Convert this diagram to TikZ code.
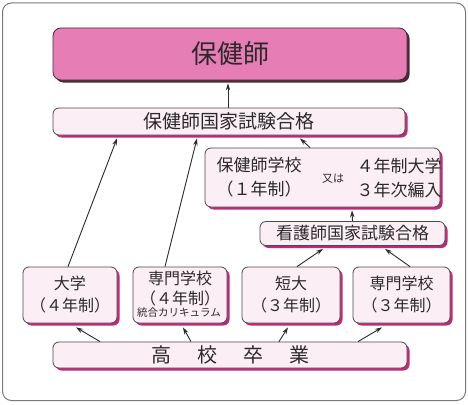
\documentclass[tikz,border=0pt]{standalone}
\usepackage{fontspec}
\setmainfont{Noto Sans CJK JP}
\usetikzlibrary{arrows.meta,shadows}
\definecolor{txt}{HTML}{2A2A2A}
\definecolor{topfill}{HTML}{E77DB5}
\definecolor{topshadow}{HTML}{4A2A38}
\definecolor{boxfill}{HTML}{FCEEF5}
\definecolor{boxline}{HTML}{4A4A4A}
\definecolor{magshadow}{HTML}{C0297A}
\definecolor{frame}{HTML}{7A7A7A}
\tikzset{
  lightbox/.style={rectangle, rounded corners=6pt, draw=boxline, line width=0.8pt, fill=boxfill,
    inner sep=0pt, text=txt, align=center,
    drop shadow={shadow xshift=2.5pt, shadow yshift=-2.5pt, fill=magshadow, opacity=1}},
  topbox/.style={rectangle, rounded corners=8pt, draw=topshadow, line width=0.8pt, fill=topfill,
    inner sep=0pt, text=txt, align=center,
    drop shadow={shadow xshift=2.5pt, shadow yshift=-2.5pt, fill=topshadow, opacity=1}},
  lbl/.style={inner sep=0pt, text=txt, align=center},
  arr/.style={draw=txt, line width=0.9pt, -{Stealth[length=7pt,width=4.5pt]}}
}
\begin{document}
\begin{tikzpicture}[x=1pt,y=-1pt]
\useasboundingbox (0,0) rectangle (468,404);
\draw[frame, line width=1pt, rounded corners=9pt, fill=white] (2.5,3) rectangle (465.5,400.5);

\node[topbox, minimum width=354pt, minimum height=52pt, font=\fontsize{26pt}{28pt}\selectfont] (top) at (230,54) {保健師};
\node[lightbox, minimum width=352pt, minimum height=27pt, font=\fontsize{19pt}{21pt}\selectfont] (pass) at (229,121.5) {保健師国家試験合格};
\node[lightbox, minimum width=235pt, minimum height=59pt] (school) at (322.5,177.5) {};
\node[lbl, font=\fontsize{17pt}{24pt}\selectfont] (schoolA) at (259,177.5) {保健師学校\\（１年制）};
\node[lbl, font=\fontsize{11pt}{12pt}\selectfont] (schoolOr) at (333,179) {又は};
\node[lbl, font=\fontsize{17pt}{24pt}\selectfont] (schoolB) at (399,177.5) {４年制大学\\３年次編入};
\node[lightbox, minimum width=185pt, minimum height=24pt, font=\fontsize{17pt}{19pt}\selectfont] (kango) at (352.5,233.5) {看護師国家試験合格};

\node[lightbox, minimum width=94pt, minimum height=56pt, font=\fontsize{16pt}{22pt}\selectfont] (daigaku) at (70,295) {大学\\（４年制）};
\node[lightbox, minimum width=94pt, minimum height=56pt] (senmon4) at (180,295) {};
\node[lbl, font=\fontsize{16pt}{20pt}\selectfont] (senmon4t) at (180,289) {専門学校\\（４年制）};
\node[lbl, font=\fontsize{10.5pt}{12pt}\selectfont] (senmon4s) at (179,313) {統合カリキュラム};
\node[lightbox, minimum width=98pt, minimum height=56pt, font=\fontsize{16pt}{22pt}\selectfont] (tandai) at (291,295) {短大\\（３年制）};
\node[lightbox, minimum width=97pt, minimum height=56pt, font=\fontsize{16pt}{22pt}\selectfont] (senmon3) at (401.5,295) {専門学校\\（３年制）};

\node[lightbox, minimum width=354pt, minimum height=26pt, font=\fontsize{20pt}{22pt}\selectfont] (koukou) at (230,355) {高\hspace{26pt}校\hspace{26pt}卒\hspace{26pt}業};

\draw[arr] ([xshift=-1pt]pass.north) -- ([xshift=-2pt,yshift=-3pt]top.south);
\draw[arr] ([xshift=-12.5pt]school.north) -- ([xshift=71pt,yshift=-3pt]pass.south);
\draw[arr] (kango.north) -- ([xshift=29.5pt,yshift=-3pt]school.south);
\draw[arr] ([xshift=-2pt]daigaku.north) -- ([xshift=-112pt,yshift=-3pt]pass.south);
\draw[arr] ([xshift=-15pt]senmon4.north) -- ([xshift=-32pt,yshift=-3pt]pass.south);
\draw[arr] ([xshift=6pt]tandai.north) -- ([xshift=-29.5pt,yshift=-3pt]kango.south);
\draw[arr] ([xshift=8.5pt]senmon3.north) -- ([xshift=32.5pt,yshift=-3pt]kango.south);
\draw[arr] ([xshift=-130pt]koukou.north) -- ([xshift=6pt,yshift=-4pt]daigaku.south);
\draw[arr] ([xshift=-39pt]koukou.north) -- ([xshift=3pt,yshift=-4pt]senmon4.south);
\draw[arr] ([xshift=49pt]koukou.north) -- ([xshift=-3pt,yshift=-4pt]tandai.south);
\draw[arr] ([xshift=128pt]koukou.north) -- ([xshift=-19.5pt,yshift=-4pt]senmon3.south);
\end{tikzpicture}
\end{document}
